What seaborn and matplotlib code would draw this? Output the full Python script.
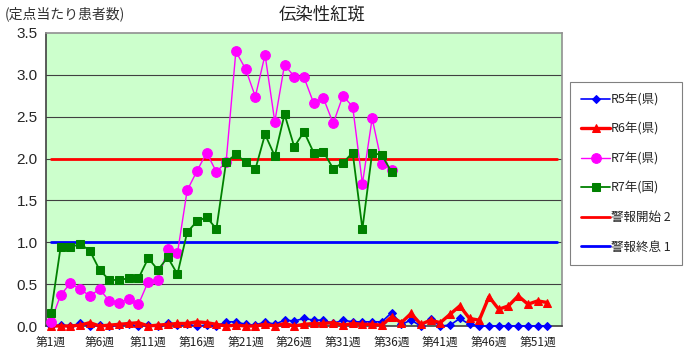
import numpy as np
import pandas as pd
import matplotlib
matplotlib.use("Agg")
import matplotlib.pyplot as plt
import seaborn as sns

# ---------------- data ----------------
weeks = list(range(1, 54))
tick_weeks = [1, 6, 11, 16, 21, 26, 31, 36, 41, 46, 51]
tick_labels = ["第1週", "第6週", "第11週", "第16週", "第21週", "第26週",
               "第31週", "第36週", "第41週", "第46週", "第51週"]

r5_pref = [0.00, 0.01, 0.00, 0.03, 0.00, 0.01, 0.00, 0.01, 0.02, 0.00,
           0.01, 0.00, 0.03, 0.01, 0.02, 0.00, 0.01, 0.00, 0.05, 0.05,
           0.02, 0.01, 0.05, 0.02, 0.07, 0.06, 0.09, 0.07, 0.07, 0.03,
           0.07, 0.05, 0.05, 0.05, 0.05, 0.16, 0.02, 0.07, 0.00, 0.08,
           0.00, 0.01, 0.09, 0.02, 0.00, 0.00, 0.00, 0.00, 0.00, 0.00,
           0.00, 0.00]
r6_pref = [0.00, 0.00, 0.00, 0.01, 0.04, 0.00, 0.01, 0.02, 0.03, 0.04,
           0.00, 0.01, 0.02, 0.03, 0.03, 0.05, 0.04, 0.02, 0.00, 0.01,
           0.00, 0.00, 0.02, 0.00, 0.03, 0.00, 0.02, 0.03, 0.03, 0.04,
           0.01, 0.03, 0.02, 0.02, 0.01, 0.11, 0.04, 0.15, 0.02, 0.07,
           0.04, 0.14, 0.24, 0.09, 0.07, 0.35, 0.20, 0.24, 0.36, 0.26,
           0.30, 0.28]
r7_pref = [0.05, 0.37, 0.51, 0.44, 0.36, 0.44, 0.30, 0.28, 0.32, 0.26,
           0.53, 0.55, 0.92, 0.87, 1.62, 1.85, 2.07, 1.84, 1.96, 3.28,
           3.07, 2.74, 3.24, 2.44, 3.12, 2.98, 2.97, 2.66, 2.72, 2.42,
           2.75, 2.62, 1.70, 2.48, 1.94, 1.86]
r7_nat = [0.15, 0.94, 0.94, 0.98, 0.90, 0.67, 0.55, 0.55, 0.57, 0.57,
          0.81, 0.67, 0.82, 0.62, 1.12, 1.25, 1.30, 1.16, 1.96, 2.05,
          1.96, 1.87, 2.29, 2.03, 2.53, 2.14, 2.32, 2.07, 2.08, 1.88,
          1.95, 2.07, 1.16, 2.07, 2.04, 1.84]
alert_start = [2.0] * 53
alert_end = [1.0] * 53

series_names = ["R5年(県)", "R6年(県)", "R7年(県)", "R7年(国)", "警報開始 2", "警報終息 1"]

# ---------------- style ----------------
sns.set_theme(style="white")
plt.rcParams["font.family"] = ["Noto Sans CJK JP", "DejaVu Sans"]

fig = plt.figure(figsize=(6.9, 3.64), dpi=100)
ax = fig.add_axes([46 / 690, 38 / 364, 516 / 690, 293 / 364])
ax.set_facecolor("#CCFFCC")

def df_of(vals):
    return pd.DataFrame({"week": weeks[:len(vals)], "value": vals})

# grid lines
for yv in [0.5, 1.0, 1.5, 2.0, 2.5, 3.0]:
    ax.axhline(yv, color="#404040", lw=0.8, zorder=1)

kw = dict(x="week", y="value", ax=ax, clip_on=False, zorder=3)
sns.lineplot(data=df_of(r5_pref), color="#0000FF", lw=1.2, marker="D",
             markersize=4.5, markeredgecolor="#0000FF", label=series_names[0], **kw)
sns.lineplot(data=df_of(r6_pref), color="#FF0000", lw=2.4, marker="^",
             markersize=6, markeredgecolor="#FF0000", label=series_names[1], **kw)
sns.lineplot(data=df_of(r7_pref), color="#FF00FF", lw=1.0, marker="o",
             markersize=7, markeredgecolor="#FF00FF", label=series_names[2], **kw)
sns.lineplot(data=df_of(r7_nat), color="#008000", lw=1.3, marker="s",
             markersize=5.5, markeredgecolor="#008000", label=series_names[3], **kw)
sns.lineplot(data=df_of(alert_start), color="#FF0000", lw=2.0,
             label=series_names[4], x="week", y="value", ax=ax, zorder=2)
sns.lineplot(data=df_of(alert_end), color="#0000FF", lw=2.0,
             label=series_names[5], x="week", y="value", ax=ax, zorder=2)

ax.set_xlim(0.5, 53.5)
ax.set_ylim(0, 3.5)
ax.set_yticks([0, 0.5, 1.0, 1.5, 2.0, 2.5, 3.0, 3.5])
ax.set_yticklabels([f"{v:.1f}" for v in [0, 0.5, 1.0, 1.5, 2.0, 2.5, 3.0, 3.5]],
                   fontsize=11, family=["Liberation Sans", "DejaVu Sans"])
ax.set_xticks(tick_weeks)
ax.set_xticklabels(tick_labels, fontsize=8.5, color="#222222")
ax.tick_params(axis="both", length=0, pad=6)
ax.tick_params(axis="x", pad=7)
ax.set_xlabel("")
ax.set_ylabel("")

for s in ["top", "right"]:
    ax.spines[s].set_color("#909090")
    ax.spines[s].set_linewidth(1.2)
for s in ["left", "bottom"]:
    ax.spines[s].set_color("#404040")
    ax.spines[s].set_linewidth(1.2)

leg = ax.legend(loc="upper left", bbox_to_anchor=(570 / 690, 282 / 364),
                bbox_transform=fig.transFigure, fontsize=9, frameon=True,
                fancybox=False, edgecolor="#606060", labelspacing=1.32,
                handlelength=2.3, handletextpad=0.1, borderpad=0.9,
                borderaxespad=0)
leg.get_frame().set_linewidth(0.8)
leg.get_frame().set_facecolor("white")

fig.text(322 / 690, 1 - 14 / 364, "伝染性紅斑", ha="center", va="center",
         fontsize=12.5, color="#222222")
fig.text(5 / 690, 1 - 14 / 364, "(定点当たり患者数)", ha="left", va="center",
         fontsize=10, color="#333333")

fig.savefig("out.png", dpi=100)
